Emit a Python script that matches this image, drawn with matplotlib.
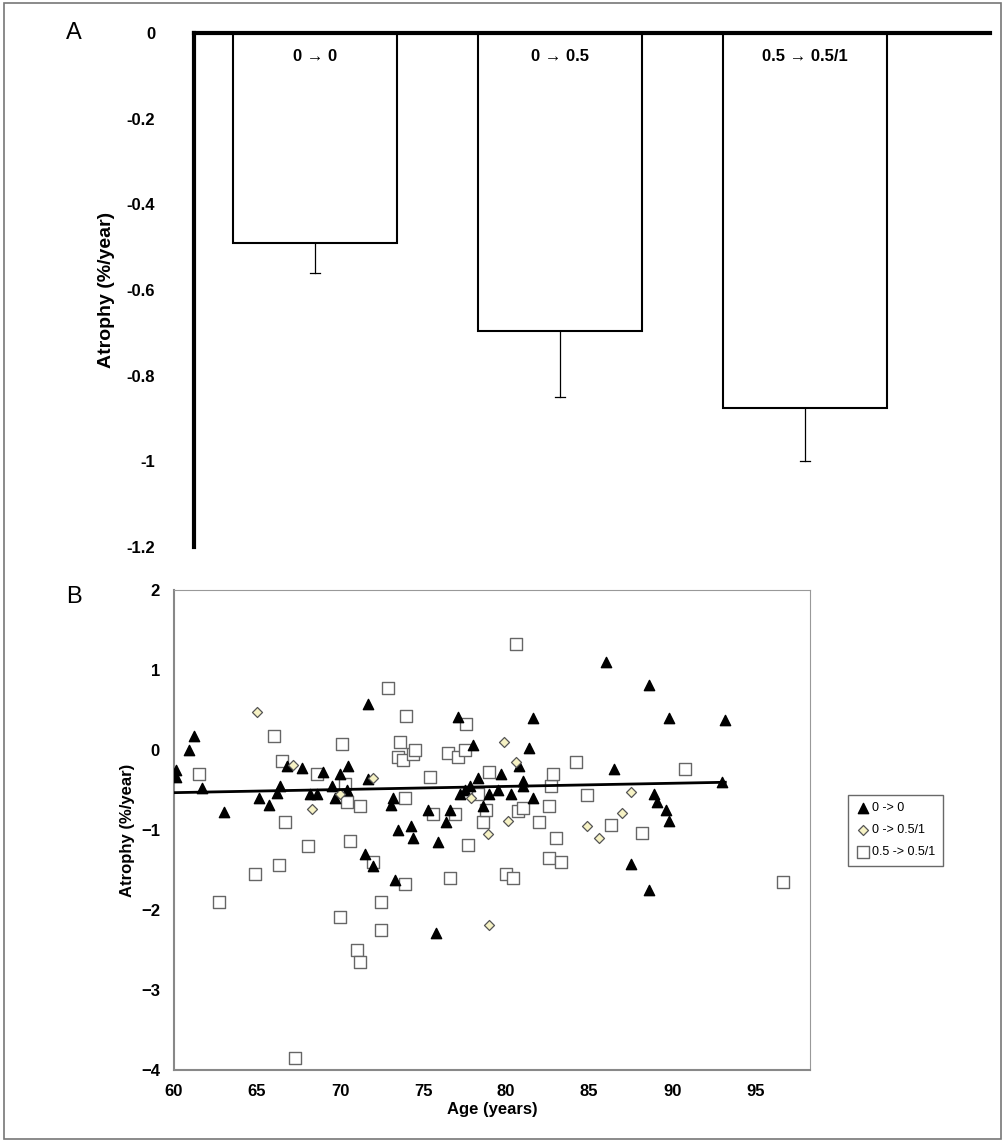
import matplotlib.pyplot as plt
from matplotlib.patches import Rectangle

plt.rcParams['font.family'] = ['Liberation Sans', 'DejaVu Sans']

# panel A
groups = ['0 → 0', '0 → 0.5', '0.5 → 0.5/1']
means = [-0.49, -0.695, -0.875]
errs = [0.07, 0.155, 0.125]
a_ticks = [0, -0.2, -0.4, -0.6, -0.8, -1, -1.2]

# panel B
tri_age = [60.1, 60.1, 60.9, 61.2, 61.7, 63.0, 65.1, 65.7, 66.2, 66.4, 66.8, 67.7, 68.2, 68.6, 69.0,
           69.5, 69.7, 70.0, 70.4, 70.5, 71.5, 71.7, 71.7, 72.0, 73.1, 73.2, 73.3, 73.5, 74.3, 74.4,
           75.3, 75.8, 75.9, 76.4, 76.6, 77.1, 77.2, 77.5, 77.8, 78.0, 78.3, 78.6, 79.0, 79.5, 79.7,
           80.3, 80.8, 81.0, 81.0, 81.4, 81.6, 81.6, 86.0, 86.5, 87.5, 88.6, 88.6, 88.9, 89.1, 89.6,
           89.8, 89.8, 93.2, 93.0]
tri_val = [-0.25, -0.33, 0.0, 0.18, -0.47, -0.77, -0.6, -0.68, -0.53, -0.45, -0.2, -0.22, -0.55, -0.55, -0.27,
           -0.45, -0.6, -0.3, -0.5, -0.2, -1.3, 0.58, -0.36, -1.45, -0.68, -0.6, -1.62, -1.0, -0.95, -1.1,
           -0.75, -2.28, -1.15, -0.9, -0.75, 0.42, -0.55, -0.5, -0.45, 0.07, -0.35, -0.7, -0.55, -0.5, -0.3,
           -0.55, -0.2, -0.38, -0.45, 0.03, 0.4, -0.6, 1.1, -0.23, -1.42, 0.82, -1.75, -0.55, -0.65, -0.75,
           -0.88, 0.4, 0.38, -0.4]
dia_age = [65.0, 67.2, 68.3, 70.0, 72.0, 77.9, 78.9, 79.0, 79.9, 80.1, 80.6, 84.9, 85.6, 87.0, 87.5]
dia_val = [0.48, -0.18, -0.73, -0.55, -0.35, -0.6, -1.05, -2.18, 0.1, -0.88, -0.15, -0.95, -1.1, -0.78, -0.52]
sq_age = [61.5, 62.7, 64.9, 66.0, 66.3, 66.5, 66.7, 67.3, 68.1, 68.6, 70.0, 70.1, 70.3, 70.4, 70.6,
          71.0, 71.2, 71.2, 72.0, 72.5, 72.5, 72.9, 73.5, 73.6, 73.8, 73.9, 73.9, 74.0, 74.4, 74.5,
          75.4, 75.6, 76.5, 76.6, 76.9, 77.1, 77.5, 77.6, 77.7, 78.3, 78.6, 78.8, 79.0, 80.0, 80.4,
          80.6, 80.7, 81.0, 82.0, 82.6, 82.6, 82.7, 82.8, 83.0, 83.3, 84.2, 84.9, 86.3, 88.2, 90.8, 96.7]
sq_val = [-0.3, -1.9, -1.55, 0.18, -1.43, -0.13, -0.9, -3.85, -1.2, -0.3, -2.08, 0.08, -0.42, -0.65, -1.13,
          -2.5, -2.65, -0.7, -1.4, -1.9, -2.25, 0.78, -0.08, 0.1, -0.12, -0.6, -1.67, 0.43, -0.05, 0.0,
          -0.33, -0.8, -0.03, -1.6, -0.8, -0.08, 0.0, 0.33, -1.18, -0.55, -0.9, -0.75, -0.27, -1.55, -1.6,
          1.33, -0.76, -0.72, -0.9, -1.35, -0.7, -0.45, -0.3, -1.1, -1.4, -0.15, -0.56, -0.93, -1.03, -0.23, -1.65]
fit_age = [60.0, 93.2]
fit_val = [-0.53, -0.4]

fig = plt.figure(figsize=(10.05, 11.42), dpi=100)
fig.patches.append(Rectangle((0.004, 0.003), 0.992, 0.994, transform=fig.transFigure,
                             fill=False, edgecolor='#777777', linewidth=1.2))

# --- A ---
ax = fig.add_axes([0.193, 0.521, 0.792, 0.45])
xs = range(len(groups))
ax.bar(xs, means, width=0.67, color='white', edgecolor='black', linewidth=1.5, zorder=2)
for x, m, e in zip(xs, means, errs):
    ax.plot([x, x], [m, m - e], color='black', lw=0.9, zorder=1)
    ax.plot([x - 0.02, x + 0.02], [m - e, m - e], color='black', lw=0.9)
    ax.text(x, -0.055, groups[x], ha='center', va='center', fontsize=12, fontweight='bold')
ax.set_xlim(-0.494, 2.755)
ax.set_ylim(-1.2, 0)
ax.set_yticks(a_ticks)
ax.set_yticklabels(['0', '-0.2', '-0.4', '-0.6', '-0.8', '-1', '-1.2'], fontsize=12, fontweight='bold')
ax.set_xticks([])
ax.axhline(0, color='black', lw=3, clip_on=False)
for s in ['right', 'bottom', 'top']:
    ax.spines[s].set_visible(False)
ax.spines['left'].set_linewidth(3)
ax.tick_params(axis='y', length=0, pad=28)
ax.set_ylabel('Atrophy (%/year)', fontsize=14, fontweight='bold', labelpad=8)
fig.text(0.066, 0.966, 'A', fontsize=17)

# --- B ---
bx = fig.add_axes([0.173, 0.063, 0.633, 0.42])
bx.scatter(tri_age, tri_val, marker='^', s=55, color='black', label='0 -> 0', zorder=3)
bx.scatter(dia_age, dia_val, marker='D', s=26, facecolor='#f6f2c4', edgecolor='#555555',
           linewidth=0.9, label='0 -> 0.5/1', zorder=3)
bx.scatter(sq_age, sq_val, marker='s', s=80, facecolor='white', edgecolor='#666666',
           linewidth=1.0, label='0.5 -> 0.5/1', zorder=2)
bx.plot(fit_age, fit_val, color='black', lw=2, zorder=4)
bx.set_xlim(60, 98.3)
bx.set_ylim(-4, 2)
bx.set_xticks([60, 65, 70, 75, 80, 85, 90, 95])
bx.set_yticks([2, 1, 0, -1, -2, -3, -4])
bx.set_yticklabels(['2', '1', '0', '−1', '−2', '−3', '−4'])
bx.tick_params(length=0, labelsize=12, pad=10)
for lab in bx.get_xticklabels() + bx.get_yticklabels():
    lab.set_fontweight('bold')
for s in ['right', 'top']:
    bx.spines[s].set_color('#999999')
    bx.spines[s].set_linewidth(0.8)
bx.spines['left'].set_color('#888888')
bx.spines['left'].set_linewidth(1.5)
bx.spines['bottom'].set_color('#888888')
bx.spines['bottom'].set_linewidth(1.5)
bx.set_xlabel('Age (years)', fontsize=12, fontweight='bold', labelpad=2)
bx.set_ylabel('Atrophy (%/year)', fontsize=12, fontweight='bold')
bx.legend(loc='center left', bbox_to_anchor=(1.05, 0.5), fontsize=9, frameon=True, fancybox=False,
          edgecolor='#444444', handletextpad=0.1, borderpad=0.6, labelspacing=0.8, handlelength=1.2)
fig.text(0.066, 0.472, 'B', fontsize=17)

fig.savefig('out.png', dpi=100)
